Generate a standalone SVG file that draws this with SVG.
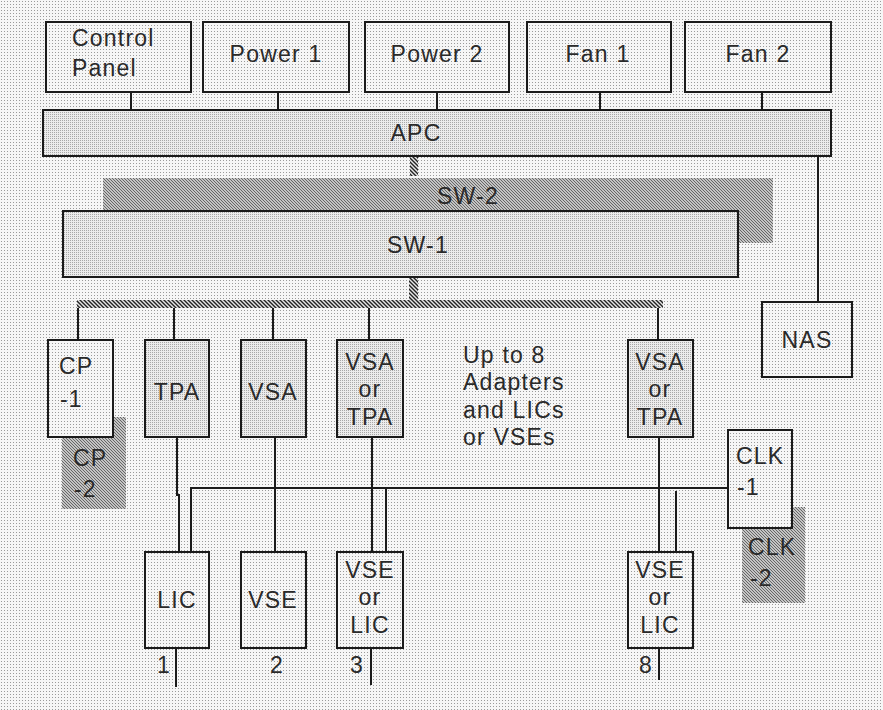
<svg xmlns="http://www.w3.org/2000/svg" width="883" height="710" viewBox="0 0 883 710">
<defs>
<pattern id="bg" width="3" height="3" patternUnits="userSpaceOnUse">
<rect width="3" height="3" fill="#f6f6f6"/>
<rect x="1" y="1" width="1" height="1" fill="#9a9a9a"/>
</pattern>
<pattern id="dense" width="2" height="2" patternUnits="userSpaceOnUse">
<rect width="2" height="2" fill="#ececec"/>
<rect x="0" y="0" width="1" height="1" fill="#a8a8a8"/>
</pattern>
<pattern id="hatch" width="3" height="3" patternUnits="userSpaceOnUse">
<rect width="3" height="3" fill="#c4c4c4"/>
<path d="M0,0 L3,3 M-1,2 L1,4 M2,-1 L4,1" stroke="#666" stroke-width="1"/>
</pattern>
<pattern id="hatchDark" width="4" height="4" patternUnits="userSpaceOnUse">
<rect width="4" height="4" fill="#e6e6e6"/>
<path d="M0,0 L4,4 M-1,3 L1,5 M3,-1 L5,1" stroke="#222" stroke-width="1.4"/>
</pattern>
</defs>
<style>
.box{stroke:#1a1a1a;stroke-width:2}
.plain{fill:url(#bg)}
.dense{fill:url(#dense)}
.shade{fill:url(#hatch);stroke:none}
.ln{stroke:#1a1a1a;stroke-width:2;fill:none}
text{font-family:"Liberation Sans",Arial,sans-serif;font-size:23px;fill:#2a2a2a;letter-spacing:1.2px}
.c{text-anchor:middle}
</style>
<rect width="883" height="710" fill="url(#bg)"/>

<g id="connectors">
<line class="ln" x1="131" y1="92" x2="131" y2="110"/>
<line class="ln" x1="278" y1="92" x2="278" y2="110"/>
<line class="ln" x1="437" y1="92" x2="437" y2="110"/>
<line class="ln" x1="600" y1="92" x2="600" y2="110"/>
<line class="ln" x1="762" y1="92" x2="762" y2="110"/>
<line class="ln" x1="818" y1="156" x2="818" y2="302"/>
<rect x="410" y="157" width="8" height="19" fill="url(#hatchDark)"/>
<rect x="409" y="277" width="9" height="24" fill="url(#hatchDark)"/>
<rect x="77" y="300" width="586" height="8" fill="url(#hatchDark)"/>
<line class="ln" x1="78" y1="308" x2="78" y2="340"/>
<line class="ln" x1="174" y1="308" x2="174" y2="340"/>
<line class="ln" x1="273" y1="308" x2="273" y2="340"/>
<line class="ln" x1="369" y1="308" x2="369" y2="340"/>
<line class="ln" x1="658" y1="308" x2="658" y2="340"/>
<polyline class="ln" points="191,552 191,488 728,488"/>
<polyline class="ln" points="177,437 177,495 179,495 179,552"/>
<line class="ln" x1="275" y1="437" x2="275" y2="552"/>
<line class="ln" x1="372" y1="437" x2="372" y2="552"/>
<line class="ln" x1="386" y1="488" x2="386" y2="552"/>
<line class="ln" x1="659" y1="437" x2="659" y2="552"/>
<line class="ln" x1="676" y1="491" x2="676" y2="552"/>
<line class="ln" x1="176" y1="648" x2="176" y2="687"/>
<line class="ln" x1="371" y1="648" x2="371" y2="685"/>
<line class="ln" x1="659" y1="648" x2="659" y2="680"/>
</g>

<g id="control-panel"><rect class="box plain" x="46" y="22" width="145" height="70"/><text x="72" y="46">Control</text><text x="72" y="76">Panel</text></g>
<g id="power-1"><rect class="box plain" x="203" y="22" width="146" height="70"/><text class="c" x="276" y="62">Power 1</text></g>
<g id="power-2"><rect class="box plain" x="365" y="22" width="144" height="70"/><text class="c" x="437" y="62">Power 2</text></g>
<g id="fan-1"><rect class="box plain" x="527" y="22" width="144" height="70"/><text class="c" x="598" y="62">Fan 1</text></g>
<g id="fan-2"><rect class="box plain" x="685" y="22" width="146" height="70"/><text class="c" x="758" y="62">Fan 2</text></g>
<g id="apc"><rect class="box dense" x="43" y="110" width="788" height="46"/><text class="c" x="416" y="141">APC</text></g>
<g id="sw-2"><rect class="shade" x="103" y="178" width="670" height="65"/><text class="c" x="468" y="204">SW-2</text></g>
<g id="sw-1"><rect class="box dense" x="63" y="211" width="675" height="66"/><text class="c" x="418" y="253">SW-1</text></g>
<g id="nas"><rect class="box plain" x="762" y="302" width="90" height="75"/><text class="c" x="807" y="348">NAS</text></g>

<g id="cp-2"><rect class="shade" x="62" y="417" width="64" height="92"/><text x="73" y="466">CP</text><text x="74" y="497">-2</text></g>
<g id="cp-1"><rect class="box plain" x="48" y="340" width="65" height="97"/><text x="59" y="374">CP</text><text x="60" y="407">-1</text></g>
<g id="tpa"><rect class="box dense" x="145" y="340" width="64" height="97"/><text class="c" x="177" y="400">TPA</text></g>
<g id="vsa"><rect class="box dense" x="241" y="340" width="65" height="97"/><text class="c" x="273" y="400">VSA</text></g>
<g id="vsa-tpa-3"><rect class="box dense" x="337" y="340" width="66" height="97"/><text class="c" x="370" y="370">VSA</text><text class="c" x="370" y="397">or</text><text class="c" x="370" y="425">TPA</text></g>
<g id="vsa-tpa-8"><rect class="box dense" x="628" y="340" width="65" height="97"/><text class="c" x="660" y="370">VSA</text><text class="c" x="660" y="397">or</text><text class="c" x="660" y="425">TPA</text></g>
<g id="note"><text x="463" y="363">Up to 8</text><text x="463" y="390">Adapters</text><text x="463" y="418">and LICs</text><text x="463" y="445">or VSEs</text></g>

<g id="clk-2"><rect class="shade" x="742" y="507" width="63" height="96"/><text x="748" y="555">CLK</text><text x="750" y="586">-2</text></g>
<g id="clk-1"><rect class="box plain" x="728" y="430" width="64" height="98"/><text x="736" y="464">CLK</text><text x="737" y="495">-1</text></g>

<g id="lic-1"><rect class="box plain" x="145" y="552" width="64" height="96"/><text class="c" x="177" y="608">LIC</text><text x="157" y="673">1</text></g>
<g id="vse-2"><rect class="box plain" x="241" y="552" width="65" height="96"/><text class="c" x="273" y="608">VSE</text><text class="c" x="277" y="673">2</text></g>
<g id="vse-lic-3"><rect class="box plain" x="337" y="552" width="66" height="96"/><text class="c" x="370" y="578">VSE</text><text class="c" x="370" y="605">or</text><text class="c" x="370" y="633">LIC</text><text x="350" y="673">3</text></g>
<g id="vse-lic-8"><rect class="box plain" x="628" y="552" width="65" height="96"/><text class="c" x="660" y="578">VSE</text><text class="c" x="660" y="605">or</text><text class="c" x="660" y="633">LIC</text><text x="639" y="673">8</text></g>
</svg>
